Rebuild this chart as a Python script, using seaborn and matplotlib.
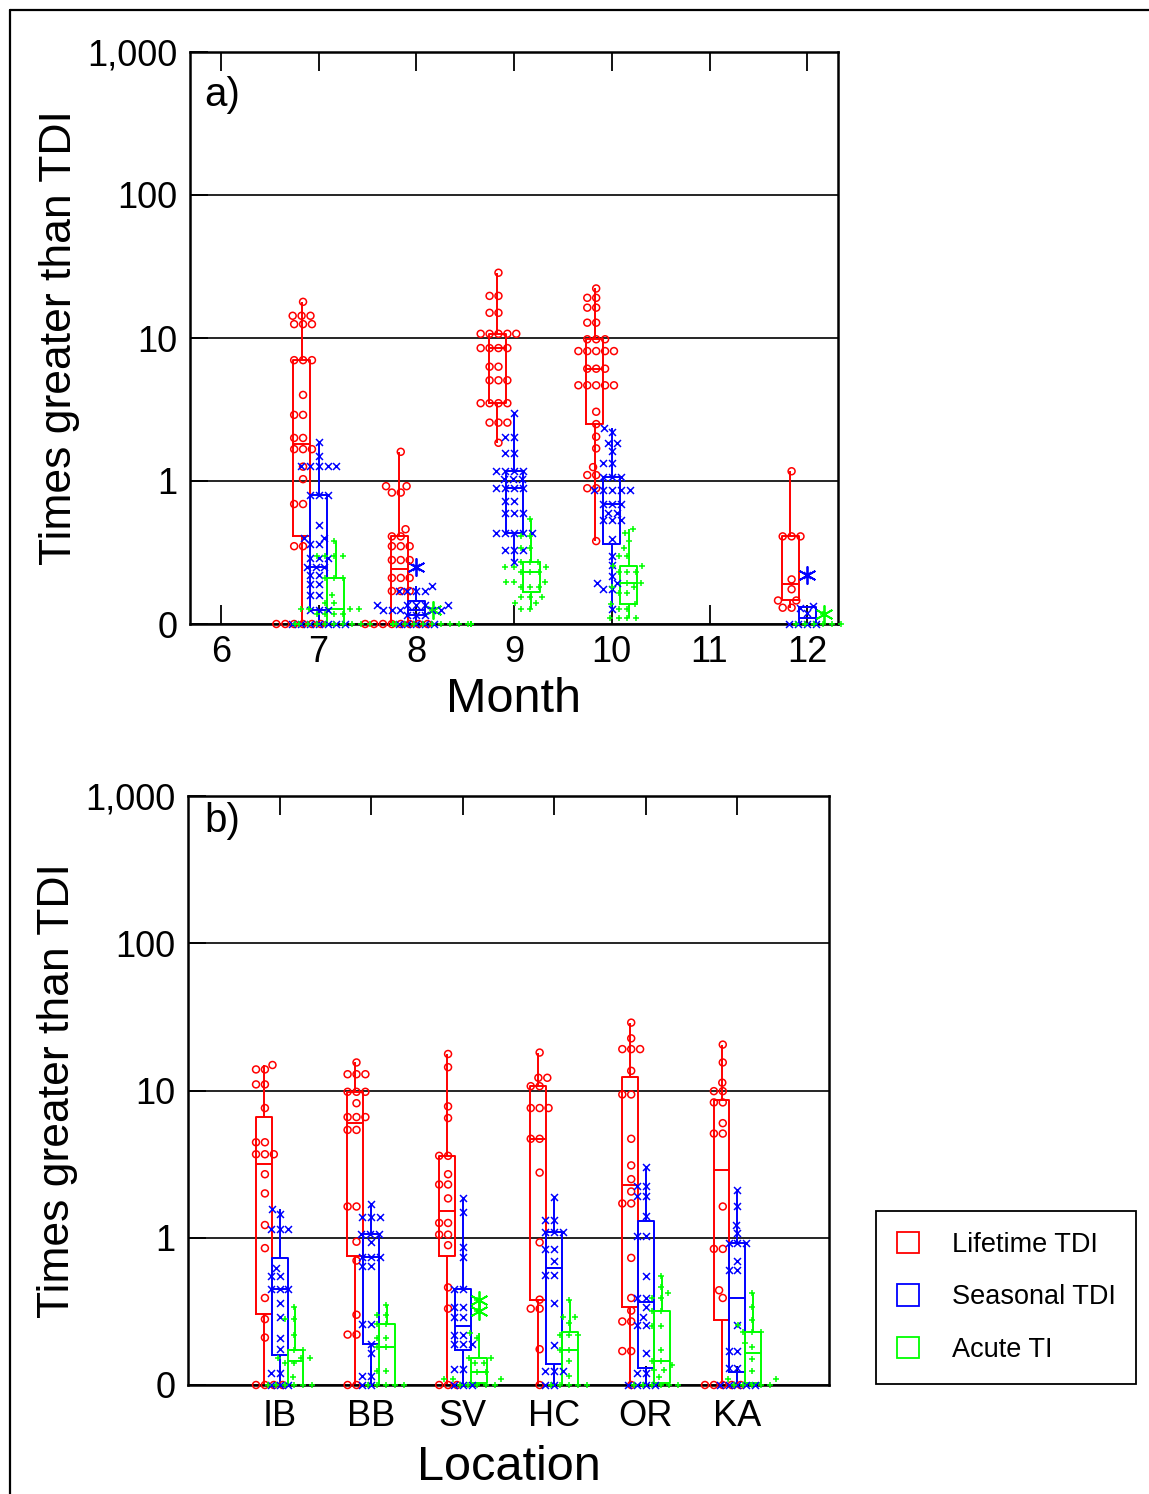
import numpy as np
import pandas as pd
import matplotlib
matplotlib.use("Agg")
import matplotlib.pyplot as plt
import seaborn as sns
from matplotlib.patches import Patch
from matplotlib.lines import Line2D
from matplotlib.ticker import NullLocator
from matplotlib.transforms import Bbox, TransformedBbox

sns.set_style("white", rc={"axes.edgecolor": "black", "xtick.color": "black",
                           "ytick.color": "black", "text.color": "black",
                           "axes.labelcolor": "black"})
plt.rcParams["font.family"] = ["Liberation Sans", "DejaVu Sans"]

# ---------------- categories / labels ----------------
SERIES = ["Lifetime TDI", "Seasonal TDI", "Acute TI"]
COLORS = ["#FF0000", "#0000FF", "#00FF00"]
MARKERS = ["o", "x", "+"]
MONTHS = ["6", "7", "8", "9", "10", "11", "12"]
LOCATIONS = ["IB", "BB", "SV", "HC", "OR", "KA"]
Y_TICKS = [0.1, 1, 10, 100, 1000]
Y_TICK_LABELS = ["0", "1", "10", "100", "1,000"]
FLOOR = 0.1  # zero values are shown on the "0" baseline

# ---------------- panel a: by month ----------------
m7_lifetime = [17.9, 14.3, 14.3, 14.3, 12.5, 12.5, 12.5, 7.0, 7.0, 7.0, 4.0, 2.9, 2.9,
               2.0, 2.0, 1.67, 1.67, 1.67, 1.26, 1.03, 0.69, 0.69, 0.35, 0.35, 0, 0, 0, 0, 0, 0]
m7_seasonal = [1.88, 1.5, 1.27, 1.27, 1.27, 1.27, 1.27, 0.80, 0.80, 0.80, 0.49, 0.40, 0.40,
               0.36, 0.36, 0.29, 0.29, 0.29, 0.25, 0.25, 0.25, 0.22, 0.22, 0.19, 0.19, 0.16, 0.16,
               0.125, 0.125, 0.125, 0, 0, 0, 0, 0, 0, 0]
m7_acute = [0.38, 0.30, 0.30, 0.30, 0.30, 0.21, 0.21, 0.21, 0.16, 0.14, 0.14, 0.127, 0.127,
            0.127, 0.127, 0.117, 0.117, 0.117, 0.117, 0, 0, 0, 0, 0, 0, 0, 0, 0, 0]
m8_lifetime = [1.6, 0.92, 0.92, 0.83, 0.83, 0.46, 0.41, 0.41, 0.35, 0.35, 0.35, 0.28, 0.28, 0.28,
               0.21, 0.21, 0.21, 0.17, 0.17, 0.17, 0, 0, 0, 0, 0, 0, 0, 0]
m8_seasonal = [0.25, 0.185, 0.17, 0.17, 0.17, 0.17, 0.136, 0.136, 0.136, 0.136, 0.136,
               0.125, 0.125, 0.125, 0.125, 0.125, 0.115, 0.115, 0.115, 0, 0, 0, 0, 0]
m8_acute = [0.125, 0, 0, 0, 0, 0, 0, 0, 0, 0, 0, 0, 0, 0, 0, 0, 0, 0, 0, 0, 0]
m9_lifetime = [28.6, 19.7, 19.7, 15.0, 15.0, 10.7, 10.7, 10.7, 10.7, 10.7, 8.5, 8.5, 8.5, 8.5,
               6.3, 6.3, 5.06, 5.06, 5.06, 3.5, 3.5, 3.5, 3.5, 2.56, 2.56, 2.56, 1.85]
m9_seasonal = [2.97, 2.02, 2.02, 1.58, 1.58, 1.18, 1.18, 1.18, 1.18, 1.03, 1.03, 1.03, 0.90,
               0.90, 0.90, 0.90, 0.72, 0.72, 0.60, 0.60, 0.60, 0.43, 0.43, 0.43, 0.43, 0.43,
               0.33, 0.33, 0.33, 0.27]
m9_acute = [0.54, 0.41, 0.41, 0.34, 0.34, 0.27, 0.27, 0.27, 0.25, 0.25, 0.25, 0.23, 0.23, 0.23,
            0.198, 0.198, 0.198, 0.18, 0.18, 0.18, 0.155, 0.155, 0.155, 0.14, 0.14, 0.127, 0.127]
m10_lifetime = [22.2, 19.1, 19.1, 16.3, 16.3, 12.8, 12.8, 9.8, 9.8, 9.8, 8.1, 8.1, 8.1, 8.1, 8.1,
                6.1, 6.1, 6.1, 4.67, 4.67, 4.67, 4.67, 4.67, 3.05, 2.5, 2.04, 1.69, 1.25,
                1.10, 1.10, 0.89, 0.89, 0.38]
m10_seasonal = [2.33, 2.2, 1.85, 1.85, 1.63, 1.34, 1.34, 1.07, 1.07, 1.07, 0.87, 0.87, 0.87,
                0.87, 0.87, 0.69, 0.69, 0.69, 0.60, 0.60, 0.53, 0.53, 0.53, 0.39, 0.30, 0.26,
                0.217, 0.195, 0.195, 0.175, 0.175, 0.127]
m10_acute = [0.46, 0.43, 0.38, 0.34, 0.30, 0.30, 0.255, 0.255, 0.23, 0.23, 0.23, 0.195, 0.195,
             0.18, 0.18, 0.165, 0.165, 0.137, 0.137, 0.127, 0.127, 0.11, 0.11, 0.11, 0.11]
m12_lifetime = [1.17, 0.41, 0.41, 0.41, 0.205, 0.175, 0.146, 0.146, 0.13, 0.13]
m12_seasonal = [0.22, 0.133, 0.13, 0.12, 0, 0, 0, 0]
m12_acute = [0.117, 0, 0, 0, 0, 0, 0]

# ---------------- panel b: by location ----------------
ib_lifetime = [14.9, 13.9, 13.9, 11.0, 11.0, 7.6, 4.45, 4.45, 3.69, 3.69, 3.69, 2.70, 2.0,
               1.22, 0.85, 0.39, 0.28, 0.21, 0, 0, 0, 0]
ib_seasonal = [1.56, 1.45, 1.15, 1.15, 1.15, 0.62, 0.55, 0.55, 0.45, 0.45, 0.45, 0.36, 0.29,
               0.21, 0.175, 0.12, 0.12, 0, 0, 0]
ib_acute = [0.34, 0.28, 0.28, 0.22, 0.173, 0.173, 0.152, 0.152, 0.152, 0.14, 0.14, 0.114,
            0, 0, 0, 0, 0, 0]
bb_lifetime = [15.5, 12.9, 12.9, 12.9, 9.8, 9.8, 9.8, 8.2, 6.6, 6.6, 6.6, 5.4, 5.4, 1.63, 1.63,
               0.94, 0.70, 0.30, 0.22, 0.22, 0, 0]
bb_seasonal = [1.7, 1.39, 1.39, 1.39, 1.06, 1.06, 1.06, 0.93, 0.74, 0.74, 0.74, 0.64, 0.64,
               0.26, 0.26, 0.19, 0.164, 0.115, 0.115, 0, 0]
bb_acute = [0.35, 0.30, 0.30, 0.26, 0.26, 0.21, 0.21, 0.18, 0.18, 0.124, 0.124, 0, 0, 0, 0, 0]
sv_lifetime = [17.7, 14.4, 7.8, 6.5, 3.6, 3.6, 2.7, 2.3, 2.3, 1.85, 1.26, 1.26, 1.05, 1.05,
               0.89, 0.46, 0.33, 0, 0, 0]
sv_seasonal = [1.87, 1.5, 0.87, 0.74, 0.45, 0.45, 0.34, 0.34, 0.29, 0.29, 0.22, 0.22, 0.19,
               0.19, 0.19, 0.128, 0.128, 0, 0, 0]
sv_acute = [0.38, 0.32, 0.224, 0.21, 0.153, 0.153, 0.14, 0.14, 0.123, 0.123, 0.11, 0.11, 0.11,
            0, 0, 0, 0, 0]
hc_lifetime = [18.1, 12.2, 12.2, 10.7, 10.7, 7.6, 7.6, 7.6, 4.7, 4.7, 2.77, 0.93, 0.38, 0.33,
               0.33, 0.175, 0]
hc_seasonal = [1.9, 1.32, 1.32, 1.1, 1.1, 1.1, 0.84, 0.84, 0.70, 0.56, 0.56, 0.36, 0.187,
               0.125, 0.125, 0.125, 0, 0]
hc_acute = [0.38, 0.29, 0.29, 0.263, 0.22, 0.22, 0.22, 0.173, 0.173, 0.145, 0.115, 0, 0, 0, 0, 0]
or_lifetime = [28.9, 22.6, 19.1, 19.1, 19.1, 13.6, 9.4, 9.4, 4.7, 3.1, 2.5, 2.06, 1.71, 1.71,
               0.73, 0.39, 0.32, 0.27, 0.27, 0.17, 0.17, 0]
or_seasonal = [3.0, 2.25, 2.25, 1.92, 1.92, 1.41, 1.03, 1.03, 0.55, 0.39, 0.39, 0.34, 0.29,
               0.256, 0.256, 0.166, 0.12, 0.12, 0, 0, 0, 0]
or_acute = [0.55, 0.46, 0.42, 0.39, 0.39, 0.32, 0.32, 0.25, 0.25, 0.174, 0.145, 0.145, 0.137,
            0.127, 0.127, 0.114, 0, 0, 0, 0, 0, 0]
ka_lifetime = [20.5, 15.5, 11.3, 9.9, 9.9, 8.3, 8.3, 6.0, 5.1, 5.1, 1.63, 0.84, 0.84, 0.44,
               0.39, 0, 0, 0, 0, 0]
ka_seasonal = [2.1, 1.64, 1.22, 1.07, 0.92, 0.92, 0.92, 0.69, 0.60, 0.60, 0.256, 0.171, 0.171,
               0.13, 0.13, 0, 0, 0, 0, 0]
ka_acute = [0.42, 0.34, 0.275, 0.256, 0.23, 0.23, 0.23, 0.194, 0.18, 0.15, 0.124, 0.11, 0.11,
            0, 0, 0, 0, 0]

panel_a_rows = [
    ("7", m7_lifetime, m7_seasonal, m7_acute),
    ("8", m8_lifetime, m8_seasonal, m8_acute),
    ("9", m9_lifetime, m9_seasonal, m9_acute),
    ("10", m10_lifetime, m10_seasonal, m10_acute),
    ("12", m12_lifetime, m12_seasonal, m12_acute),
]
panel_b_rows = [
    ("IB", ib_lifetime, ib_seasonal, ib_acute),
    ("BB", bb_lifetime, bb_seasonal, bb_acute),
    ("SV", sv_lifetime, sv_seasonal, sv_acute),
    ("HC", hc_lifetime, hc_seasonal, hc_acute),
    ("OR", or_lifetime, or_seasonal, or_acute),
    ("KA", ka_lifetime, ka_seasonal, ka_acute),
]


def build(rows):
    recs = []
    for grp, *lists in rows:
        for ser, vals in zip(SERIES, lists):
            for v in vals:
                recs.append((grp, ser, v))
    df = pd.DataFrame(recs, columns=["group", "series", "value"])
    df["shown"] = df["value"].clip(lower=FLOOR)
    return df


df_a = build(panel_a_rows)
df_b = build(panel_b_rows)

W, H = 1149, 1494
fig = plt.figure(figsize=(W / 100, H / 100), dpi=100)
ax_a = fig.add_axes([190 / W, 1 - 624 / H, 648 / W, 572 / H])
ax_b = fig.add_axes([188 / W, 1 - 1385 / H, 641 / W, 589 / H])

PAD_ORDER = ["_left"] + SERIES + ["_right"]
PAD_PAL = dict(zip(PAD_ORDER, ["white"] + COLORS + ["white"]))


def draw_panel(ax, df, order, xlim, xlabel, tag, tag_xy, xpad, xlabelpad):
    sns.boxplot(data=df, x="group", y="shown", hue="series", order=order,
                hue_order=SERIES, palette=COLORS, fill=False, width=0.52, gap=0,
                whis=1.5, showcaps=False, linewidth=1.4, log_scale=True,
                legend=False, ax=ax,
                flierprops=dict(marker=(6, 2, 0), markersize=13, markeredgewidth=1.3))
    # clip region slightly taller than the axes so baseline markers show whole
    clipbox = TransformedBbox(Bbox([[-0.02, -0.02], [1.02, 1.0]]), ax.transAxes)
    for ser, col, mk in zip(SERIES, COLORS, MARKERS):
        n0 = len(ax.collections)
        sns.swarmplot(data=df[df["series"] == ser], x="group", y="shown", hue="series",
                      order=order, hue_order=PAD_ORDER, palette=PAD_PAL, dodge=True,
                      marker=mk, size=5, log_scale=True, legend=False, warn_thresh=1,
                      ax=ax)
        for c in ax.collections[n0:]:
            c.set_facecolor("none" if mk == "o" else col)
            c.set_edgecolor(col)
            c.set_linewidth(1.1)
            c.set_clip_path(None)
            c.set_clip_box(clipbox)
    ax.set_ylim(0.1, 1000)
    ax.set_xlim(*xlim)
    ax.set_yticks(Y_TICKS, Y_TICK_LABELS)
    ax.yaxis.set_minor_locator(NullLocator())
    ax.yaxis.grid(True, color="black", linewidth=1.2)
    ax.xaxis.grid(False)
    for sp in ax.spines.values():
        sp.set_linewidth(1.8)
        sp.set_color("black")
    ax.tick_params(axis="x", direction="in", length=14, width=1.3, top=True, bottom=True,
                   labelsize=26, pad=xpad)
    ax.tick_params(axis="y", direction="in", length=13, width=1.3, left=True, right=False,
                   labelsize=26, pad=9)
    ax.set_xlabel(xlabel, fontsize=35, labelpad=xlabelpad)
    ax.set_ylabel("Times greater than TDI", fontsize=32, labelpad=5)
    ax.text(tag_xy[0], tag_xy[1], tag, transform=ax.transAxes, fontsize=29,
            va="top", ha="left")


draw_panel(ax_a, df_a, MONTHS, (-0.317, 6.315), "Month", "a)", (0.022, 0.958), 8, 5)
draw_panel(ax_b, df_b, LOCATIONS, (-1.0, 6.0), "Location", "b)", (0.026, 0.99), 10, 8)

handles = [Patch(facecolor="none", edgecolor=c, linewidth=1.3) for c in COLORS]
leg = fig.legend(handles, SERIES, loc="upper left",
                 bbox_to_anchor=(876 / W, 1 - 1211 / H), bbox_transform=fig.transFigure,
                 fontsize=19.5, frameon=True, fancybox=False, edgecolor="black",
                 framealpha=1, borderpad=0.77, labelspacing=0.98, handlelength=0.82,
                 handleheight=0.82, handletextpad=1.2, borderaxespad=0)
leg.get_frame().set_linewidth(1.3)

# outer frame (top and left edges are visible)
fig.add_artist(Line2D([10 / W, 10 / W], [0, 1 - 10 / H], transform=fig.transFigure,
                      color="black", linewidth=1.6))
fig.add_artist(Line2D([10 / W, 1], [1 - 10 / H, 1 - 10 / H], transform=fig.transFigure,
                      color="black", linewidth=1.6))

fig.savefig("out.png", dpi=100)
